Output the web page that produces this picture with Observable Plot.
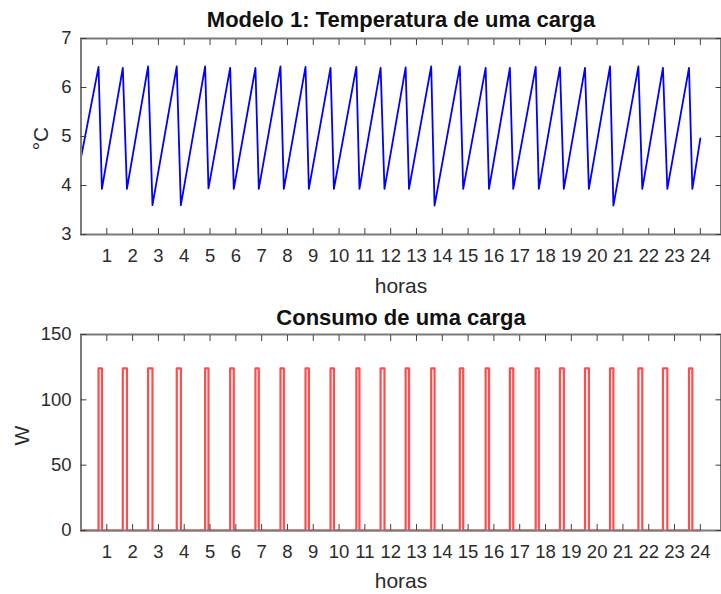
<!DOCTYPE html>
<html><head><meta charset="utf-8">
<script src="https://cdn.jsdelivr.net/npm/d3@7"></script>
<script src="https://cdn.jsdelivr.net/npm/@observablehq/plot@0.6"></script>
<style>
html,body{margin:0;padding:0;background:#fff;overflow:hidden;}
#chart{width:721px;height:594px;overflow:hidden;position:relative;background:#fff;}
#chart svg{display:block;}
</style></head><body><div id="chart"></div>
<script>
// ---- data ----
const tempHours = [0, 0.68, 0.81, 1.62, 1.78, 2.60, 2.77, 3.71, 3.87, 4.81, 4.94, 5.78, 5.92, 6.76, 6.89, 7.73, 7.86, 8.70, 8.83, 9.67, 9.80, 10.67, 10.79, 11.61, 11.76, 12.58, 12.71, 13.57, 13.70, 14.68, 14.81, 15.68, 15.81, 16.62, 16.75, 17.62, 17.74, 18.56, 18.71, 19.53, 19.68, 20.50, 20.63, 21.60, 21.75, 22.55, 22.72, 23.56, 23.69, 24.0];
const tempValues = [4.57, 6.42, 3.93, 6.40, 3.93, 6.43, 3.60, 6.43, 3.60, 6.43, 3.94, 6.40, 3.93, 6.40, 3.93, 6.43, 3.93, 6.42, 3.93, 6.40, 3.93, 6.42, 3.93, 6.40, 3.93, 6.41, 3.93, 6.43, 3.59, 6.43, 3.93, 6.40, 3.93, 6.40, 3.93, 6.42, 3.93, 6.41, 3.93, 6.40, 3.93, 6.43, 3.59, 6.43, 3.93, 6.40, 3.93, 6.40, 3.93, 4.96];
const pulseOn  = [0.68, 1.62, 2.60, 3.71, 4.81, 5.78, 6.76, 7.73, 8.70, 9.67, 10.67, 11.61, 12.58, 13.57, 14.68, 15.68, 16.62, 17.62, 18.56, 19.53, 20.50, 21.60, 22.55, 23.56];
const pulseOff = [0.81, 1.78, 2.77, 3.87, 4.94, 5.92, 6.89, 7.86, 8.83, 9.80, 10.79, 11.76, 12.71, 13.70, 14.81, 15.81, 16.75, 17.74, 18.71, 19.68, 20.63, 21.75, 22.72, 23.69];
const pulsePower = 124;
const dayStart = 0, dayEnd = 24;
const hourTicks = [1, 2, 3, 4, 5, 6, 7, 8, 9, 10, 11, 12, 13, 14, 15, 16, 17, 18, 19, 20, 21, 22, 23, 24];
const tempTicks = [3, 4, 5, 6, 7];
const powerTicks = [0, 50, 100, 150];
const titleTemp = "Modelo 1: Temperatura de uma carga";
const titlePower = "Consumo de uma carga";
const xLabel = "horas";
const yLabelTemp = "°C";
const yLabelPower = "W";

// ---- tables ----
const tempData = tempHours.map((h, i) => ({h, v: tempValues[i]}));
const powerData = [{h: dayStart, v: 0}];
pulseOn.forEach((on, i) => {
  powerData.push({h: on, v: 0}, {h: on, v: pulsePower}, {h: pulseOff[i], v: pulsePower}, {h: pulseOff[i], v: 0});
});
powerData.push({h: dayEnd, v: 0});

const FONT = "'Liberation Sans', Arial, Helvetica, sans-serif";
const AX = "#7a7a7a", TICK = "#404040", TXT = "#2b2b2b";

function panel({marks, yDomain, yTicks, title, titleDy, ylab, ylabDx, ylabDy, mt, xlabDy}) {
  const H = 297, frameH = 196;
  return Plot.plot({
    width: 721, height: H,
    marginLeft: 80.5, marginRight: 0.5, marginTop: mt, marginBottom: H - mt - frameH,
    x: {domain: [0, 24.8]},
    y: {domain: yDomain},
    style: {fontFamily: FONT, fontSize: "18.5px", color: TXT, background: "white"},
    marks: [
      ...marks,
      Plot.frame({stroke: AX, strokeWidth: 2}),
      Plot.axisX(hourTicks, {anchor: "bottom", tickSize: -6, tickFormat: () => "", label: null, stroke: TICK}),
      Plot.axisX(hourTicks, {anchor: "top", tickSize: -6, tickFormat: () => "", label: null, stroke: TICK}),
      Plot.axisX(hourTicks, {anchor: "bottom", tickSize: 0, tickPadding: 14, label: null, fill: TXT, fontSize: 18.5}),
      Plot.axisY(yTicks, {anchor: "left", tickSize: -6, tickFormat: () => "", label: null, stroke: TICK}),
      Plot.axisY(yTicks, {anchor: "right", tickSize: -6, tickFormat: () => "", label: null, stroke: TICK}),
      Plot.axisY(yTicks, {anchor: "left", tickSize: 0, tickPadding: 9.5, label: null, fill: TXT, fontSize: 18.5}),
      Plot.text([title], {text: d => d, frameAnchor: "top", lineAnchor: "middle", textAnchor: "middle", dy: titleDy, fontWeight: "bold", fontSize: 22, fill: "#111"}),
      Plot.text([xLabel], {text: d => d, frameAnchor: "bottom", lineAnchor: "middle", textAnchor: "middle", dy: xlabDy, fontSize: 21, fill: TXT}),
      Plot.text([ylab], {text: d => d, frameAnchor: "left", lineAnchor: "middle", textAnchor: "middle", dx: ylabDx, dy: ylabDy, rotate: -90, fontSize: 21, fill: TXT})
    ]
  });
}

const topPanel = panel({
  marks: [Plot.line(tempData, {x: "h", y: "v", stroke: "#0000ff", strokeWidth: 1.8})],
  yDomain: [3, 7], yTicks: tempTicks, title: titleTemp, titleDy: -19,
  ylab: yLabelTemp, ylabDx: -40, ylabDy: 2, mt: 38, xlabDy: 52
});
const bottomPanel = panel({
  marks: [Plot.line(powerData, {x: "h", y: "v", stroke: "#ff0000", strokeWidth: 2.2, strokeOpacity: 0.7, curve: "linear"})],
  yDomain: [0, 150], yTicks: powerTicks, title: titlePower, titleDy: -17,
  ylab: yLabelPower, ylabDx: -59, ylabDy: 3, mt: 37, xlabDy: 51
});
document.getElementById("chart").append(topPanel, bottomPanel);
</script></body></html>
